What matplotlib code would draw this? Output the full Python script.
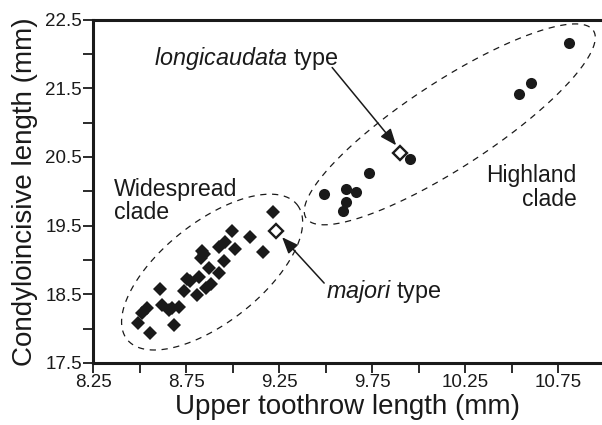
import numpy as np
import matplotlib.pyplot as plt

plt.rcParams['font.family'] = ['Liberation Sans', 'DejaVu Sans']
plt.rcParams['mathtext.fontset'] = 'custom'
plt.rcParams['mathtext.rm'] = 'Liberation Sans'
plt.rcParams['mathtext.it'] = 'Liberation Sans:italic'

# Widespread clade (diamonds)
wide_x = [9.218, 8.996, 9.092, 8.960, 8.927, 9.013, 9.164, 8.838, 8.829, 8.954,
          8.874, 8.927, 8.820, 8.757, 8.883, 8.859, 8.739, 8.609, 8.811, 8.712,
          8.623, 8.659, 8.676, 8.542, 8.515, 8.494, 8.685, 8.555, 8.845, 8.770]
wide_y = [19.699, 19.423, 19.327, 19.263, 19.190, 19.153, 19.118, 19.132, 19.022, 18.987,
          18.876, 18.804, 18.746, 18.717, 18.648, 18.586, 18.551, 18.571, 18.488, 18.318,
          18.343, 18.270, 18.295, 18.295, 18.222, 18.086, 18.052, 17.940, 19.080, 18.690]

# Highland clade (circles)
high_x = [10.805, 10.603, 10.537, 9.953, 9.734, 9.492, 9.609, 9.662, 9.609, 9.594]
high_y = [22.156, 21.580, 21.410, 20.475, 20.266, 19.967, 20.039, 19.990, 19.844, 19.714]

# type specimens (open diamonds)
type_x = [9.232, 9.899]
type_y = [19.423, 20.557]

fig = plt.figure(figsize=(6.02, 4.25), dpi=100)
ax = fig.add_axes([0.1545, 0.146, 0.8455, 0.808])

ink = '#1a1a1a'
ax.plot(wide_x, wide_y, 'D', color=ink, ms=7.5, mew=0, zorder=3)
ax.plot(high_x, high_y, 'o', color=ink, ms=8, mew=0, zorder=3)
ax.plot(type_x, type_y, 'D', mfc='white', mec=ink, ms=7, mew=1.7, zorder=4)

# dashed ellipses around the clades (center, semi-axis vectors in data units)
t = np.linspace(0, 2 * np.pi, 400)
def ellipse(cx, cy, ux, uy, vx, vy):
	ax.plot(cx + ux * np.cos(t) + vx * np.sin(t), cy + uy * np.cos(t) + vy * np.sin(t),
	        color=ink, lw=0.9, dashes=(5, 4.5), zorder=2)

ellipse(8.890, 18.823, 0.457, 0.981, 0.167, -0.570)
ellipse(10.167, 20.974, 0.7716, 1.366, 0.1268, -0.523)

# labels
ax.text(8.363, 20.20, "Widespread\nclade", fontsize=16.7, color=ink, ha='left', va='top', linespacing=1.05)
ax.text(10.847, 20.40, "Highland\nclade", fontsize=16.5, color=ink, ha='right', va='top', linespacing=1.05)
ax.text(8.578, 21.831, r"$\mathit{longicaudata}$ type", fontsize=16.8, color=ink, ha='left', va='baseline')
ax.text(9.503, 18.445, r"$\mathit{majori}$ type", fontsize=16.8, color=ink, ha='left', va='baseline')

arrow = dict(arrowstyle='-|>,head_length=1.0,head_width=0.4', color=ink, lw=1.1, shrinkA=0, shrinkB=0)
ax.annotate("", xy=(9.879, 20.669), xytext=(9.535, 21.802), arrowprops=arrow)
ax.annotate("", xy=(9.266, 19.331), xytext=(9.492, 18.663), arrowprops=arrow)

ax.set_xlim(8.25, 10.985)
ax.set_ylim(17.5, 22.5)
ax.set_xticks(np.arange(8.25, 10.76, 0.5))
ax.set_xticks(np.arange(8.5, 11.0, 0.5), minor=True)
ax.set_yticks(np.arange(17.5, 22.51, 1.0))
ax.set_yticks(np.arange(18.0, 22.1, 1.0), minor=True)
ax.xaxis.set_major_formatter(plt.FormatStrFormatter('%.2f'))
ax.yaxis.set_major_formatter(plt.FormatStrFormatter('%.1f'))
ax.tick_params(which='both', direction='out', length=7, width=1.3, color=ink, labelsize=13.5, labelcolor=ink, pad=1)

for s in ['left', 'bottom', 'top']:
	ax.spines[s].set_linewidth(2.2)
	ax.spines[s].set_color(ink)
ax.spines['right'].set_visible(False)

ax.set_xlabel("Upper toothrow length (mm)", fontsize=20, color=ink, labelpad=2)
ax.set_ylabel("Condyloincisive length (mm)", fontsize=20, color=ink, labelpad=5)

fig.savefig("out.png", dpi=100)
